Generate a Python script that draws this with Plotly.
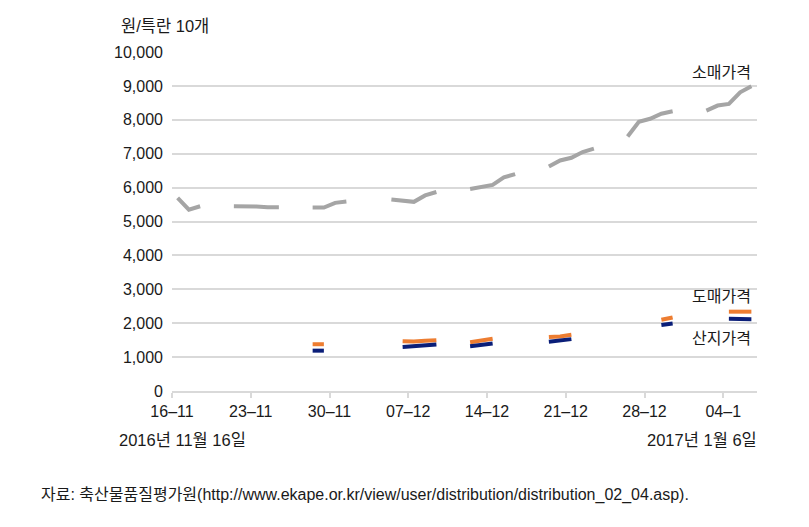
import pandas as pd
import plotly.graph_objects as go

# ---- data ----
retail_dates = ["2016-11-16", "2016-11-17", "2016-11-18",
                "2016-11-21", "2016-11-22", "2016-11-23", "2016-11-24", "2016-11-25",
                "2016-11-28", "2016-11-29", "2016-11-30", "2016-12-01",
                "2016-12-05", "2016-12-06", "2016-12-07", "2016-12-08", "2016-12-09",
                "2016-12-12", "2016-12-13", "2016-12-14", "2016-12-15", "2016-12-16",
                "2016-12-19", "2016-12-20", "2016-12-21", "2016-12-22", "2016-12-23",
                "2016-12-26", "2016-12-27", "2016-12-28", "2016-12-29", "2016-12-30",
                "2017-01-02", "2017-01-03", "2017-01-04", "2017-01-05", "2017-01-06"]
retail_values = [5700, 5350, 5450,
                 5450, 5450, 5440, 5420, 5420,
                 5410, 5410, 5550, 5590,
                 5650, 5620, 5580, 5770, 5870,
                 5960, 6030, 6080, 6300, 6400,
                 6620, 6800, 6880, 7050, 7150,
                 7510, 7940, 8030, 8180, 8250,
                 8270, 8420, 8470, 8810, 8990]

wholesale_dates = ["2016-11-28", "2016-11-29",
                   "2016-12-06", "2016-12-07", "2016-12-08", "2016-12-09",
                   "2016-12-12", "2016-12-13", "2016-12-14",
                   "2016-12-19", "2016-12-20", "2016-12-21",
                   "2016-12-29", "2016-12-30",
                   "2017-01-04", "2017-01-05", "2017-01-06"]
wholesale_values = [1380, 1380,
                    1470, 1460, 1480, 1500,
                    1440, 1490, 1540,
                    1590, 1610, 1660,
                    2100, 2170,
                    2340, 2350, 2340]

producer_dates = wholesale_dates
producer_values = [1190, 1190,
                   1300, 1320, 1340, 1370,
                   1320, 1360, 1400,
                   1450, 1480, 1530,
                   1950, 1990,
                   2130, 2130, 2120]

tick_dates = ["2016-11-16", "2016-11-23", "2016-11-30", "2016-12-07",
              "2016-12-14", "2016-12-21", "2016-12-28", "2017-01-04"]
tick_labels = ["16\u201311", "23\u201311", "30\u201311", "07\u201312",
               "14\u201312", "21\u201312", "28\u201312", "04\u20131"]

y_ticks = [0, 1000, 2000, 3000, 4000, 5000, 6000, 7000, 8000, 9000, 10000]

# ---- build daily series (gaps -> line breaks), points at mid-day ----
days = pd.date_range("2016-11-16", "2017-01-06", freq="D")


def daily(dates, values):
    s = pd.Series(values, index=pd.to_datetime(dates)).reindex(days)
    x = days + pd.Timedelta(hours=12)
    return x, [None if pd.isna(v) else v for v in s.values]


FONT = "Liberation Sans, Noto Sans CJK KR, sans-serif"
fig = go.Figure()
for dates, vals, color in [(retail_dates, retail_values, "#A5A5A5"),
                           (wholesale_dates, wholesale_values, "#ED7D31"),
                           (producer_dates, producer_values, "#0A1E78")]:
    x, y = daily(dates, vals)
    fig.add_trace(go.Scatter(x=x, y=y, mode="lines", connectgaps=False,
                             line=dict(color=color, width=4),
                             hoverinfo="skip", showlegend=False))

L, R, T, B = 172, 757, 52, 391
W, H = 809, 527


def px(xp):
    return (xp - L) / (R - L)


def py(yp):
    return (B - yp) / (B - T)


annots = [
    ("소매가격", 753, 72, "right", 16),
    ("도매가격", 753, 296, "right", 16),
    ("산지가격", 753, 338, "right", 16),
    ("원/특란 10개", 119, 26, "left", 16.5),
    ("2016년 11월 16일", 117, 440, "left", 16.5),
    ("2017년 1월 6일", 759, 440, "right", 16.5),
    ("자료: 축산물품질평가원(http://www.ekape.or.kr/view/user/distribution/distribution_02_04.asp).",
     39, 495, "left", 16),
]
for text, xp, yp, anchor, size in annots:
    fig.add_annotation(text=text, x=px(xp), y=py(yp), xref="paper", yref="paper",
                       xanchor=anchor, yanchor="middle", showarrow=False,
                       font=dict(family=FONT, size=size, color="#1a1a1a"))

fig.update_layout(
    width=W, height=H,
    margin=dict(l=L, r=W - R, t=T, b=H - B),
    paper_bgcolor="white", plot_bgcolor="white",
    font=dict(family=FONT, size=16, color="#1a1a1a"),
    xaxis=dict(type="date", range=["2016-11-16", "2017-01-07"],
               tickmode="array", tickvals=tick_dates, ticktext=tick_labels,
               showgrid=False, zeroline=False,
               showline=True, linecolor="#D9D9D9", linewidth=1.5,
               ticks="outside", ticklen=5, tickcolor="#D9D9D9", tickwidth=1.5,
               tickfont=dict(size=16)),
    yaxis=dict(range=[0, 10000], tickmode="array", tickvals=y_ticks,
               tickformat=",d", showgrid=True, gridcolor="#D9D9D9", gridwidth=1.5,
               zeroline=False, showline=False, ticks="", ticklabelstandoff=8,
               tickfont=dict(size=16)),
)

fig.write_html("out.html", config={"displayModeBar": False},
               post_script="document.body.style.margin='0';document.body.style.padding='0';")
